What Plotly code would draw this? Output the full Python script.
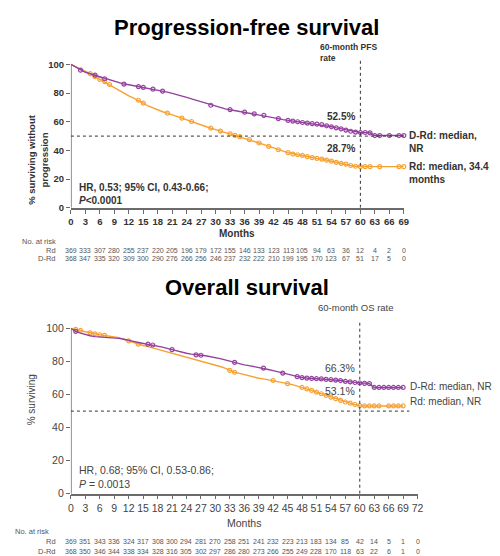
import plotly.graph_objects as go

# ---------------- DATA ----------------
# Progression-free survival curves (months, % surviving without progression)
pfs_rd_months = [0, 1, 2, 3, 4, 5, 6, 7, 8, 9, 10, 11, 12, 13, 14, 15, 16, 17, 18, 19, 20, 21, 22, 23, 24, 25, 26, 27, 28, 29,
                 30, 31, 32, 33, 34, 35, 36, 37, 38, 39, 40, 41, 42, 43, 44, 45, 46, 47, 48, 49, 50, 51, 52, 53, 54, 55, 56, 57, 58, 59,
                 60, 61, 62, 63, 64, 65, 66, 67, 68, 69]
pfs_rd_pct = [100, 98.5, 97, 95, 93.5, 91.5, 89.5, 88, 86, 84, 82, 80, 78, 76.5, 75, 73, 71, 69.5, 68, 67, 66, 64.8, 63.5, 62.5, 61.5, 60.2, 59, 57.8, 56.5, 55.5,
              54.5, 53.5, 52.5, 51.5, 50.5, 49.6, 48.5, 47.5, 46.5, 45.2, 44, 42.8, 41.5, 40.5, 39.5, 38.5, 37.5, 37, 36.5, 35.7, 35, 34.5, 34, 33.2, 32.5, 31.7, 31, 30.5, 29.5, 29,
              28.7, 28.7, 28.7, 28.7, 28.7, 28.7, 28.7, 28.7, 28.7, 28.7]
pfs_rd_censor = [4, 5, 6, 7, 8, 14, 15, 20, 23, 25, 29, 31, 33, 34, 35, 37, 39, 41, 43, 45, 46, 47, 48, 49, 50, 51, 52, 53, 54,
                 55, 56, 57, 58, 59, 60, 61, 62, 64, 68, 69]

pfs_drd_months = [0, 1, 2, 3, 4, 5, 6, 7, 8, 9, 10, 11, 12, 13, 14, 15, 16, 17, 18, 19, 20, 21, 22, 23, 24, 25, 26, 27, 28, 29,
                  30, 31, 32, 33, 34, 35, 36, 37, 38, 39, 40, 41, 42, 43, 44, 45, 46, 47, 48, 49, 50, 51, 52, 53, 54, 55, 56, 57, 58, 59,
                  60, 61, 62, 63, 64, 65, 66, 67, 68, 69]
pfs_drd_pct = [100, 98, 96, 94.5, 93.5, 92.5, 91.2, 90, 89, 88, 87, 86.3, 85.8, 85.2, 84.5, 84, 83.5, 82.7, 82, 81.4, 80.7, 79.8, 79, 78, 77, 76, 75, 73.8, 72.5, 71.5,
               70.5, 69.7, 69, 68.4, 67.8, 67.2, 66.7, 66.1, 65.5, 65, 64.5, 63.8, 63, 62.2, 61.5, 61, 60.5, 60, 59.5, 59.1, 58.7, 58.3, 58, 57.2, 56.5, 55.7, 55, 54.2, 53.4, 52.8,
               52.5, 52.5, 52.3, 50.4, 50.4, 50.4, 50.4, 50.4, 50.4, 50.4]
pfs_drd_censor = [2, 5, 7, 11, 14, 15, 17, 19, 29, 33, 36, 38, 40, 43, 45, 46, 47, 48, 49, 50, 51, 52, 53, 54, 55, 56, 57, 58,
                  59, 60, 61, 62, 63, 64, 66, 68, 69]

# Overall survival curves (months, % surviving)
os_rd_months = [0, 1, 2, 3, 4, 5, 6, 7, 8, 9, 10, 11, 12, 13, 14, 15, 16, 17, 18, 19, 20, 21, 22, 23, 24, 25, 26, 27, 28, 29,
                30, 31, 32, 33, 34, 35, 36, 37, 38, 39, 40, 41, 42, 43, 44, 45, 46, 47, 48, 49, 50, 51, 52, 53, 54, 55, 56, 57, 58, 59,
                60, 61, 62, 63, 64, 65, 66, 67, 68, 69]
os_rd_pct = [100, 99.5, 98.8, 98, 97.3, 96.8, 96.2, 95.8, 95.3, 94.9, 94.5, 93.5, 92.5, 91.5, 90.5, 89.7, 89, 88.2, 87.5, 86.7, 86, 85.2, 84.5, 83.6, 82.8, 82, 81.3, 80.4, 79.6, 78.8,
             78, 77, 76, 74.6, 73.5, 72.8, 72, 71.1, 70.3, 69.9, 69.5, 69, 68.5, 67.9, 67.3, 66.6, 66, 65.2, 64.3, 63.4, 62.5, 61.5, 60.5, 59.5, 58.5, 57.5, 56.5, 55.5, 54.8, 54,
             53.3, 53.1, 53.1, 53.1, 53.1, 53.1, 53.1, 53.1, 53.1, 53.1]
os_rd_censor = [1, 2, 4, 5, 6, 7, 12, 14, 33, 34, 42, 45, 48, 49, 50, 51, 52, 53, 54, 55, 56, 57, 58, 59, 60, 61, 62, 63, 64,
                66, 67, 68, 69]

os_drd_months = [0, 1, 2, 3, 4, 5, 6, 7, 8, 9, 10, 11, 12, 13, 14, 15, 16, 17, 18, 19, 20, 21, 22, 23, 24, 25, 26, 27, 28, 29,
                 30, 31, 32, 33, 34, 35, 36, 37, 38, 39, 40, 41, 42, 43, 44, 45, 46, 47, 48, 49, 50, 51, 52, 53, 54, 55, 56, 57, 58, 59,
                 60, 61, 62, 63, 64, 65, 66, 67, 68, 69]
os_drd_pct = [100, 98.3, 97.2, 96.3, 95.6, 95.1, 94.9, 94.8, 94.6, 94.3, 94, 93.5, 93, 92.2, 91.5, 91, 90.5, 90, 89.5, 88.7, 88, 87.2, 86.5, 85.8, 85, 84.5, 84, 83.8, 83.5, 83,
              82.5, 81.8, 81, 80.2, 79.5, 78.7, 78, 77.5, 77, 76.5, 76, 75.2, 74.5, 73.8, 73, 72.2, 71.5, 70.9, 70.3, 70, 69.8, 69.6, 69.5, 69.2, 69, 68.8, 68.5, 68, 67.7, 67.3,
              67, 66.8, 66.6, 64.3, 64.3, 64.3, 64.3, 64.3, 64.3, 64.3]
os_drd_censor = [1, 16, 17, 21, 26, 27, 34, 40, 44, 47, 48, 49, 50, 51, 52, 53, 54, 55, 56, 57, 58, 59, 60, 61, 62, 63, 64,
                 65, 66, 67, 68, 69]

# Axis ticks
pfs_month_ticks = [0, 3, 6, 9, 12, 15, 18, 21, 24, 27, 30, 33, 36, 39, 42, 45, 48, 51, 54, 57, 60, 63, 66, 69]
os_month_ticks = [0, 3, 6, 9, 12, 15, 18, 21, 24, 27, 30, 33, 36, 39, 42, 45, 48, 51, 54, 57, 60, 63, 66, 69, 72]
pct_ticks = [0, 20, 40, 60, 80, 100]

# Numbers at risk
pfs_risk_rd = [369, 333, 307, 280, 255, 237, 220, 205, 196, 179, 172, 155, 146, 133, 123, 113, 105, 94, 63, 36, 12, 4, 2, 0]
pfs_risk_drd = [368, 347, 335, 320, 309, 300, 290, 276, 266, 256, 246, 237, 232, 222, 210, 199, 195, 170, 123, 67, 51, 17, 5, 0]
os_risk_rd = [369, 351, 343, 336, 324, 317, 308, 300, 294, 281, 270, 258, 251, 241, 232, 223, 213, 183, 134, 85, 42, 14, 5, 1, 0]
os_risk_drd = [368, 350, 346, 344, 338, 334, 328, 316, 305, 302, 297, 286, 280, 273, 266, 255, 249, 228, 170, 118, 63, 22, 6, 1, 0]

# Landmark rates
landmark_month = 60
pfs_rate_drd, pfs_rate_rd = 52.5, 28.7
os_rate_drd, os_rate_rd = 66.3, 53.1
median_line = 50

# ---------------- STYLE ----------------
W, H = 500, 556
ORANGE = "#F7A133"
PURPLE = "#94409F"
FONT = "Liberation Sans, Arial, sans-serif"
DARK = "#333333"
GRAY = "#555555"
AX = "#6a6a6a"


def py(px):
    return 1 - px / H


def censor_pts(months, pct, cens):
    xs, ys = [], []
    for m in cens:
        i = months.index(m)
        xs.append(months[i])
        ys.append(pct[i])
    return xs, ys


fig = go.Figure()


def add_curve(months, pct, cens, color, xa, ya):
    fig.add_trace(go.Scatter(x=months, y=pct, mode="lines", line=dict(color=color, width=1.4),
                             xaxis=xa, yaxis=ya, hoverinfo="skip"))
    cx, cy = censor_pts(months, pct, cens)
    fig.add_trace(go.Scatter(x=cx, y=cy, mode="markers", cliponaxis=False,
                             marker=dict(symbol="circle-open", size=4, color=color, line=dict(width=1.2)),
                             xaxis=xa, yaxis=ya, hoverinfo="skip"))


add_curve(pfs_rd_months, pfs_rd_pct, pfs_rd_censor, ORANGE, "x", "y")
add_curve(pfs_drd_months, pfs_drd_pct, pfs_drd_censor, PURPLE, "x", "y")
add_curve(os_rd_months, os_rd_pct, os_rd_censor, ORANGE, "x2", "y2")
add_curve(os_drd_months, os_drd_pct, os_drd_censor, PURPLE, "x2", "y2")

common_x = dict(showgrid=False, zeroline=False, showline=True, linecolor=AX, linewidth=1.5,
                ticks="outside", ticklen=4, tickcolor=AX, tickwidth=1.2, tickangle=0)
common_y = dict(showgrid=False, zeroline=False, showline=False, ticks="outside", ticklen=4,
                tickcolor=AX, tickwidth=1.2, tickvals=pct_ticks, range=[0, 105])

fig.update_layout(
    width=W, height=H, margin=dict(l=0, r=0, t=0, b=0),
    paper_bgcolor="white", plot_bgcolor="white", showlegend=False,
    font=dict(family=FONT, color=DARK),
    xaxis=dict(common_x, domain=[0.122, 0.8], range=[0, 69], tickvals=pfs_month_ticks, anchor="y",
               tickfont=dict(size=9.5, color=DARK, weight="bold")),
    yaxis=dict(common_y, domain=[0.6367, 0.9105], anchor="x",
               tickfont=dict(size=9.5, color=DARK, weight="bold")),
    xaxis2=dict(common_x, domain=[0.122, 0.828], range=[0, 72], tickvals=os_month_ticks, anchor="y2",
                tickfont=dict(size=10.5, color="#444")),
    yaxis2=dict(common_y, domain=[0.1169, 0.4323], anchor="x2",
                tickfont=dict(size=10.5, color="#444")),
)

shapes = []
for xr, yr, xend, top in [("x", "y", pfs_drd_months[-1], 103.5), ("x2", "y2", os_drd_months[-1] + 1.3, 104.5)]:
    shapes.append(dict(type="line", xref=xr, yref=yr, x0=0, x1=0, y0=0, y1=100, line=dict(color=AX, width=1.5)))
    shapes.append(dict(type="line", xref=xr, yref=yr, x0=0, x1=xend, y0=median_line, y1=median_line,
                       line=dict(color=DARK, width=1, dash="dot")))
    shapes.append(dict(type="line", xref=xr, yref=yr, x0=landmark_month, x1=landmark_month, y0=0, y1=top,
                       line=dict(color=DARK, width=1, dash="dot")))
fig.update_layout(shapes=shapes)

ann = []


def text(x, y, t, size, xref="paper", yref="paper", xanchor="center", yanchor="middle", bold=False,
         color=DARK, align="left", textangle=0, xshift=0, yshift=0):
    ann.append(dict(x=x, y=y, xref=xref, yref=yref, text=t, showarrow=False, xanchor=xanchor, yanchor=yanchor,
                    align=align, textangle=textangle, xshift=xshift, yshift=yshift, borderpad=0,
                    font=dict(size=size, color=color, family=FONT, weight="bold" if bold else "normal")))


# Titles
text(0.48, py(20), "Progression-free survival", 22, bold=True, color="black")
text(0.48, py(283), "Overall survival", 22, bold=True, color="black")

# Y-axis titles
text(0.054, py(153), "% surviving without<br>progression", 9.5, bold=True, textangle=-90, align="center")
text(0.042, py(396), "% surviving", 10, color="#444", textangle=-90)

# X-axis titles
text(0.5, py(228), "Months", 10, xref="x domain", bold=True)
text(0.5, py(521), "Months", 10.5, xref="x2 domain", color="#444")

# PFS annotations
text(51.5, py(33), "60-month PFS<br>rate", 8.5, xref="x", xanchor="left", yanchor="top", bold=True)
text(landmark_month, pfs_rate_drd, f"{pfs_rate_drd}%", 10, xref="x", yref="y", xanchor="right", bold=True,
     xshift=-4, yshift=16)
text(landmark_month, pfs_rate_rd, f"{pfs_rate_rd}%", 10, xref="x", yref="y", xanchor="right", bold=True,
     xshift=-4, yshift=18)
text(pfs_drd_months[-1], pfs_drd_pct[-1], "D-Rd: median,<br>NR", 10, xref="x", yref="y", xanchor="left",
     yanchor="top", bold=True, xshift=4, yshift=7)
text(pfs_rd_months[-1], pfs_rd_pct[-1], "Rd: median, 34.4<br>months", 10, xref="x", yref="y", xanchor="left",
     yanchor="top", bold=True, xshift=4, yshift=7)
text(0, py(188), "HR, 0.53; 95% CI, 0.43-0.66;<br><i>P</i>&lt;0.0001", 10, xref="x", xanchor="left", bold=True,
     xshift=7)

# OS annotations
text(51.2, py(303), "60-month OS rate", 9.5, xref="x2", xanchor="left", color="#444")
text(landmark_month, os_rate_drd, f"{os_rate_drd}%", 10.5, xref="x2", yref="y2", xanchor="right", color="#444",
     xshift=-4, yshift=16)
text(landmark_month, os_rate_rd, f"{os_rate_rd}%", 10.5, xref="x2", yref="y2", xanchor="right", color="#444",
     xshift=-4, yshift=15)
text(os_drd_months[-1], os_drd_pct[-1], "D-Rd: median, NR", 10, xref="x2", yref="y2", xanchor="left",
     color="#444", xshift=6, yshift=1)
text(os_rd_months[-1], os_rd_pct[-1], "Rd: median, NR", 10, xref="x2", yref="y2", xanchor="left",
     color="#444", xshift=6, yshift=4)
text(0, py(474), "HR, 0.68; 95% CI, 0.53-0.86;<br><i>P</i> = 0.0013", 10.5, xref="x2", xanchor="left",
     color="#444", xshift=7)

# Numbers at risk
text(10 / W, py(236.5), "No. at risk", 7.5, xanchor="left", color=GRAY)
text(47 / W, py(245.5), "Rd", 7.5, xanchor="right", color=GRAY)
text(47 / W, py(253.5), "D-Rd", 7.5, xanchor="right", color=GRAY)
for m, a, b in zip(pfs_month_ticks, pfs_risk_rd, pfs_risk_drd):
    text(m, py(245.5), str(a), 7, xref="x", color=GRAY)
    text(m, py(253.5), str(b), 7, xref="x", color=GRAY)

text(3 / W, py(529.5), "No. at risk", 7.5, xanchor="left", color=GRAY)
text(47 / W, py(539.5), "Rd", 7.5, xanchor="right", color=GRAY)
text(47 / W, py(549), "D-Rd", 7.5, xanchor="right", color=GRAY)
for m, a, b in zip(os_month_ticks, os_risk_rd, os_risk_drd):
    text(m, py(539.5), str(a), 7, xref="x2", color=GRAY)
    text(m, py(549), str(b), 7, xref="x2", color=GRAY)

fig.update_layout(annotations=ann)
fig.write_html("out.html")
